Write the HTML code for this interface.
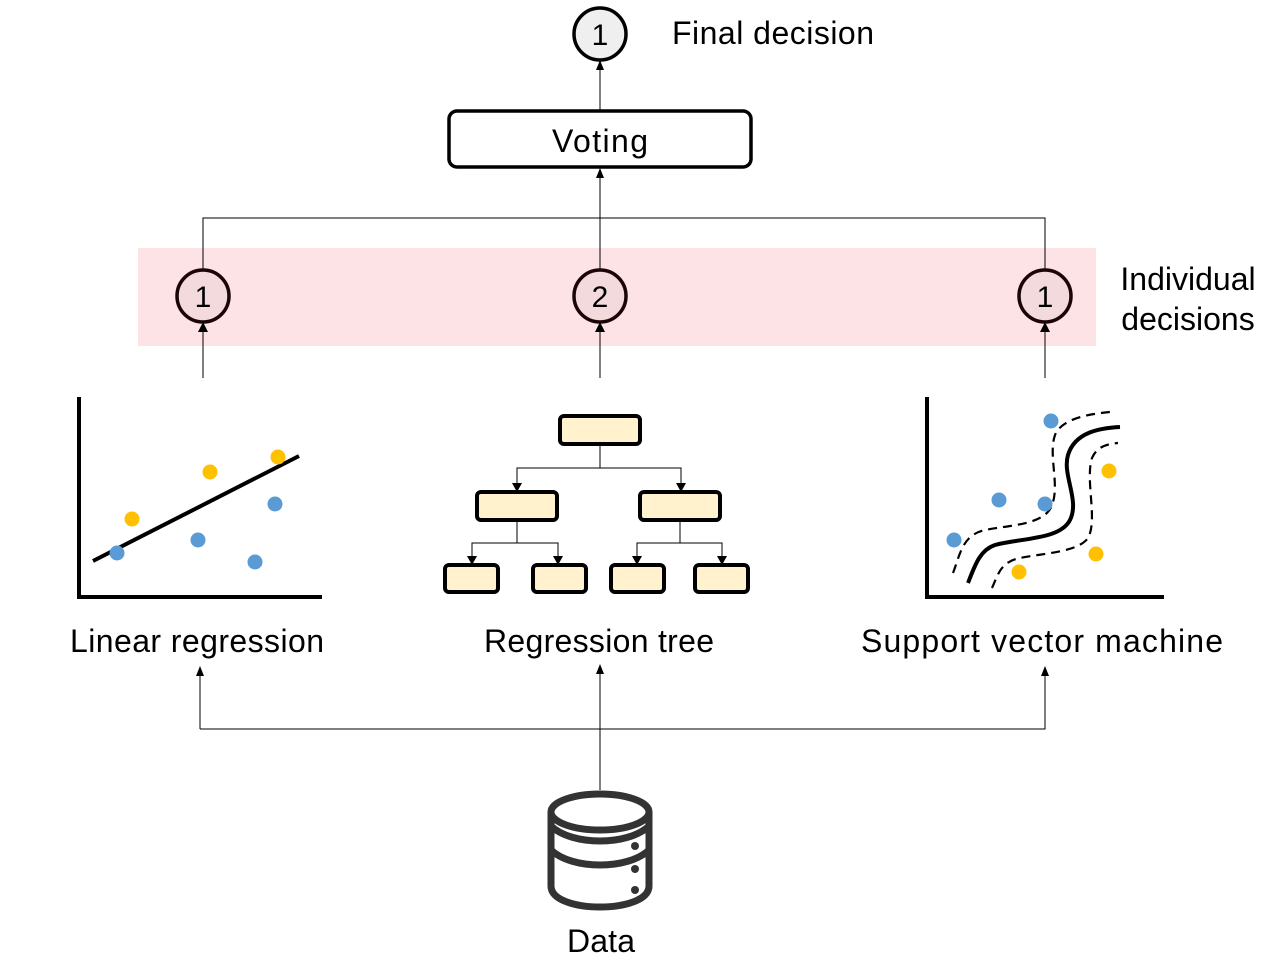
<!DOCTYPE html>
<html><head><meta charset="utf-8"><style>
html,body{margin:0;padding:0;background:#fff;}
svg{display:block;font-family:"Liberation Sans","Noto Sans CJK KR",sans-serif;}
</style></head><body>
<svg width="1280" height="979" viewBox="0 0 1280 979" xmlns="http://www.w3.org/2000/svg">
<!-- pink band -->
<rect x="138" y="248" width="958" height="98" fill="#fde3e5"/>
<!-- top connectors -->
<path d="M203,269 V218 H1045 V269" fill="none" stroke="#000" stroke-width="1"/>
<line x1="600" y1="269" x2="600" y2="175" stroke="#000" stroke-width="1"/>
<path d="M596,178 L600,168 L604,178 Z"/>
<line x1="600" y1="110" x2="600" y2="66" stroke="#000" stroke-width="1"/>
<path d="M596,70 L600,60 L604,70 Z"/>
<!-- final decision -->
<circle cx="600" cy="34" r="26" fill="#efefef" stroke="#000" stroke-width="3.5"/>
<text x="600" y="45" font-size="30" text-anchor="middle">1</text>
<text x="672" y="44" font-size="32" textLength="202">Final decision</text>
<!-- voting -->
<rect x="449" y="111" width="302" height="56" rx="8" fill="#fff" stroke="#000" stroke-width="3.5"/>
<text x="600" y="152" font-size="32" text-anchor="middle" textLength="96">Voting</text>
<!-- individual circles -->
<g stroke="#000" stroke-width="1">
<line x1="203" y1="378" x2="203" y2="328"/>
<line x1="600" y1="378" x2="600" y2="328"/>
<line x1="1045" y1="378" x2="1045" y2="328"/>
</g>
<path d="M198,332 L203,322 L208,332 Z M595,332 L600,322 L605,332 Z M1040,332 L1045,322 L1050,332 Z"/>
<g fill="#f2dadd" stroke="#1a0508" stroke-width="3.5">
<circle cx="203" cy="296" r="26"/><circle cx="600" cy="296" r="26"/><circle cx="1045" cy="296" r="26"/>
</g>
<g font-size="30" text-anchor="middle">
<text x="203" y="307">1</text><text x="600" y="307">2</text><text x="1045" y="307">1</text>
</g>
<text x="1188" y="290" font-size="32" text-anchor="middle">Individual</text>
<text x="1188" y="330" font-size="32" text-anchor="middle">decisions</text>
<!-- linear regression -->
<path d="M79,397 V597 H322" fill="none" stroke="#000" stroke-width="4"/>
<line x1="93" y1="561" x2="299" y2="456" stroke="#000" stroke-width="4"/>
<g fill="#ffc000"><circle cx="132" cy="519" r="7.5"/><circle cx="210" cy="472" r="7.5"/><circle cx="278" cy="457" r="7.5"/></g>
<g fill="#5b9bd5"><circle cx="117" cy="553" r="7.5"/><circle cx="198" cy="540" r="7.5"/><circle cx="275" cy="504" r="7.5"/><circle cx="255" cy="562" r="7.5"/></g>
<!-- regression tree -->
<g fill="none" stroke="#000" stroke-width="1">
<path d="M600,444 V468 M517,486 V468 H681 V486"/>
<path d="M517,520 V543 M472,559 V543 H558 V559"/>
<path d="M680,520 V543 M637,559 V543 H722 V559"/>
</g>
<path d="M512,483 L522,483 L517,492 Z M676,483 L686,483 L681,492 Z M467,556 L477,556 L472,565 Z M553,556 L563,556 L558,565 Z M632,556 L642,556 L637,565 Z M717,556 L727,556 L722,565 Z"/>
<g fill="#fff2cc" stroke="#000" stroke-width="4">
<rect x="560" y="416" width="80" height="28" rx="4"/>
<rect x="477" y="492" width="80" height="28" rx="4"/>
<rect x="640" y="492" width="80" height="28" rx="4"/>
<rect x="445" y="565" width="53" height="27" rx="4"/>
<rect x="533" y="565" width="53" height="27" rx="4"/>
<rect x="611" y="565" width="53" height="27" rx="4"/>
<rect x="695" y="565" width="53" height="27" rx="4"/>
</g>
<!-- SVM -->
<path d="M927,397 V597 H1164" fill="none" stroke="#000" stroke-width="4"/>
<path d="M968,583 C975,565 980,550 995,545 C1020,538 1060,540 1070,520 C1080,500 1062,475 1068,455 C1075,432 1100,428 1120,427" fill="none" stroke="#000" stroke-width="4"/>
<path d="M953,573 C960,555 962,535 985,530 C1010,525 1045,525 1052,505 C1060,485 1048,455 1055,435 C1062,418 1090,414 1110,412" fill="none" stroke="#000" stroke-width="2.2" stroke-dasharray="9,6"/>
<path d="M992,588 C998,575 1000,562 1020,558 C1045,553 1078,552 1088,538 C1098,520 1085,480 1092,458 C1097,446 1108,444 1118,443" fill="none" stroke="#000" stroke-width="2.2" stroke-dasharray="9,6"/>
<g fill="#5b9bd5"><circle cx="1051" cy="421" r="7.5"/><circle cx="999" cy="500" r="7.5"/><circle cx="1045" cy="504" r="7.5"/><circle cx="954" cy="540" r="7.5"/></g>
<g fill="#ffc000"><circle cx="1109" cy="471" r="7.5"/><circle cx="1096" cy="554" r="7.5"/><circle cx="1019" cy="572" r="7.5"/></g>
<!-- labels -->
<text x="197" y="652" font-size="32" text-anchor="middle" textLength="254">Linear regression</text>
<text x="599" y="652" font-size="32" text-anchor="middle" textLength="230">Regression tree</text>
<text x="1042" y="652" font-size="32" text-anchor="middle" textLength="362">Support vector machine</text>
<!-- bottom connectors -->
<g stroke="#000" stroke-width="1" fill="none">
<path d="M200,729 V672"/>
<path d="M200,729 H1045 V672"/>
<path d="M600,790 V672"/>
</g>
<path d="M196,676 L200,666 L204,676 Z M596,674 L600,664 L604,674 Z M1041,676 L1045,666 L1049,676 Z"/>
<!-- database -->
<g fill="none" stroke="#333" stroke-width="7">
<path d="M551,812 V886 C551,914 649,914 649,886 V812"/>
<ellipse cx="600" cy="812" rx="49" ry="18"/>
<path d="M551,826 C572,846 628,846 649,826"/>
<path d="M551,850 C572,870 628,870 649,850"/>
</g>
<g fill="#333"><circle cx="635" cy="846" r="4"/><circle cx="635" cy="869" r="4"/><circle cx="635" cy="890" r="4"/></g>
<text x="601" y="952" font-size="32" text-anchor="middle" textLength="68">Data</text>
</svg>
</body></html>
